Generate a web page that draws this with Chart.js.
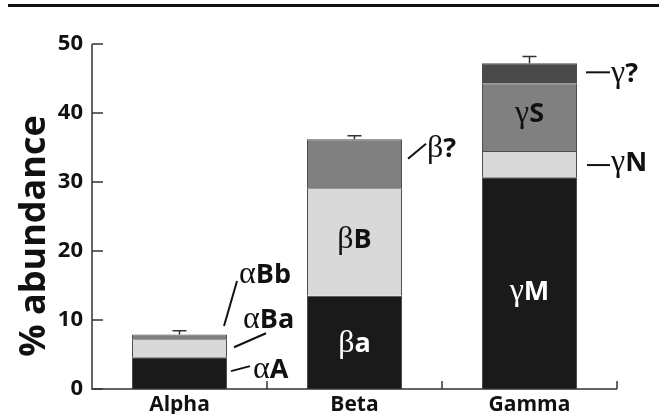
<!DOCTYPE html>
<html>
<head>
<meta charset="utf-8">
<script src="https://cdn.jsdelivr.net/npm/chart.js@4/dist/chart.umd.min.js"></script>
<style>
  html, body { margin: 0; padding: 0; background: #fff; }
  #wrap { width: 659px; height: 414px; }
</style>
</head>
<body>
<div id="wrap"><canvas id="c" width="659" height="414"></canvas></div>
<script>
// Crystallin classes and their sub-fractions (% abundance), stacked bottom to top
const categories = ['Alpha', 'Beta', 'Gamma'];
const layer1 = [4.6, 13.5, 30.7];   // αA, βa, γM
const layer2 = [2.6, 15.6, 3.8];    // αBa, βB, γN
const layer3 = [0.7, 7.1, 9.8];     // αBb, β?, γS
const layer4 = [null, null, 2.9];   // γ?
const errors = [0.55, 0.5, 1.0];    // upper error on each total
const yTicks = [0, 10, 20, 30, 40, 50];

// segment names: [greek prefix, latin suffix]
const names1 = [['α', 'A'], ['β', 'a'], ['γ', 'M']];
const names2 = [['α', 'Ba'], ['β', 'B'], ['γ', 'N']];
const names3 = [['α', 'Bb'], ['β', '?'], ['γ', 'S']];
const names4 = [null, null, ['γ', '?']];

const layers = [layer1, layer2, layer3, layer4];
const names = [names1, names2, names3, names4];
const fills = ['#1a1a1a', '#d9d9d9', '#808080', '#4a4a4a'];

// where each name goes: inside the segment, or beside the bar with a leader line
// inside: dy = baseline offset from segment middle
// outside: line from (right+x0, mid+y0) to (right+x1, mid+y1), text at right+tx, baseline mid+ty
const placement = {
  '0,0': { out: true, x0: 4, y0: -2, x1: 23, y1: -7, tx: 26, ty: 5 },
  '1,0': { out: true, x0: 7, y0: -1, x1: 39, y1: -15, tx: 16, ty: -20 },
  '2,0': { out: true, x0: -3, y0: -11, x1: 10, y1: -56, tx: 12, ty: -54 },
  '0,1': { out: false, dy: 10, color: '#fff' },
  '1,1': { out: false, dy: 6, color: '#111' },
  '2,1': { out: true, x0: 6, y0: -5, x1: 24, y1: -20, tx: 25, ty: -7 },
  '0,2': { out: false, dy: 17, color: '#fff' },
  '1,2': { out: true, x0: 10, y0: 1, x1: 33, y1: 1, tx: 34, ty: 7 },
  '2,2': { out: false, dy: 5, color: '#111' },
  '3,2': { out: true, x0: 9, y0: -1, x1: 33, y1: -1, tx: 34, ty: 9 }
};

const SANS = '"Open Sans", "Liberation Sans", sans-serif';
const SERIF = '"Liberation Serif", "DejaVu Serif", serif';

function drawName(ctx, greek, latin, x, baseline, align, color, gSize, lSize) {
  ctx.save();
  ctx.fillStyle = color;
  ctx.textBaseline = 'alphabetic';
  ctx.textAlign = 'left';
  ctx.font = gSize + 'px ' + SERIF;
  const gw = ctx.measureText(greek).width;
  ctx.font = 'bold ' + lSize + 'px ' + SANS;
  const lw = ctx.measureText(latin).width;
  let sx = align === 'center' ? x - (gw + lw) / 2 : x;
  ctx.font = gSize + 'px ' + SERIF;
  ctx.fillText(greek, sx, baseline);
  ctx.font = 'bold ' + lSize + 'px ' + SANS;
  ctx.fillText(latin, sx + gw, baseline);
  ctx.restore();
}

const decorations = {
  id: 'decorations',
  beforeDraw(chart) {
    const ctx = chart.ctx;
    ctx.save();
    ctx.fillStyle = '#fff';
    ctx.fillRect(0, 0, chart.width, chart.height);
    // heading rule
    ctx.strokeStyle = '#111';
    ctx.lineWidth = 3;
    ctx.beginPath();
    ctx.moveTo(8, 5.5);
    ctx.lineTo(chart.width, 5.5);
    ctx.stroke();
    // axis title
    ctx.translate(45, 236);
    ctx.rotate(-Math.PI / 2);
    ctx.fillStyle = '#111';
    ctx.font = 'bold 36px ' + SANS;
    ctx.textAlign = 'center';
    ctx.textBaseline = 'alphabetic';
    ctx.fillText('% abundance', 0, 0);
    ctx.restore();
  },
  afterDatasetsDraw(chart) {
    const ctx = chart.ctx;
    const xs = chart.scales.x, ys = chart.scales.y;
    const area = chart.chartArea;
    ctx.save();
    ctx.strokeStyle = '#333';
    ctx.lineWidth = 1.5;
    // axes
    ctx.beginPath();
    ctx.moveTo(area.left, area.top);
    ctx.lineTo(area.left, area.bottom);
    ctx.lineTo(area.right, area.bottom);
    ctx.stroke();
    // inward y ticks
    yTicks.forEach(v => {
      const y = ys.getPixelForValue(v);
      ctx.beginPath();
      ctx.moveTo(area.left, y);
      ctx.lineTo(area.left + 11, y);
      ctx.stroke();
    });
    // category boundary ticks on x axis
    const step = (area.right - area.left) / categories.length;
    for (let i = 1; i <= categories.length; i++) {
      const x = xs.getPixelForValue(i - 1) + step / 2;
      ctx.beginPath();
      ctx.moveTo(x, area.bottom);
      ctx.lineTo(x, area.bottom - 8);
      ctx.stroke();
    }
    // error bars above each stack
    categories.forEach((c, i) => {
      const total = layers.reduce((s, l) => s + (l[i] || 0), 0);
      const x = xs.getPixelForValue(i);
      const y0 = ys.getPixelForValue(total);
      const y1 = ys.getPixelForValue(total + errors[i]);
      ctx.beginPath();
      ctx.moveTo(x, y0);
      ctx.lineTo(x, y1);
      ctx.moveTo(x - 7, y1);
      ctx.lineTo(x + 7, y1);
      ctx.stroke();
    });
    // segment names
    layers.forEach((layer, li) => {
      const meta = chart.getDatasetMeta(li);
      categories.forEach((c, ci) => {
        const nm = names[li][ci];
        const p = placement[li + ',' + ci];
        if (!nm || !p || layer[ci] == null) return;
        let base = 0;
        for (let k = 0; k < li; k++) base += layers[k][ci] || 0;
        const mid = ys.getPixelForValue(base + layer[ci] / 2);
        const bar = meta.data[ci];
        const right = bar.x + bar.width / 2;
        if (p.out) {
          ctx.strokeStyle = '#111';
          ctx.lineWidth = 2;
          ctx.beginPath();
          ctx.moveTo(right + p.x0, mid + p.y0);
          ctx.lineTo(right + p.x1, mid + p.y1);
          ctx.stroke();
          drawName(ctx, nm[0], nm[1], right + p.tx, mid + p.ty, 'left', '#111', 32, 27);
        } else {
          drawName(ctx, nm[0], nm[1], bar.x, mid + p.dy, 'center', p.color, 32, 27);
        }
      });
    });
    ctx.restore();
  }
};

new Chart(document.getElementById('c'), {
  type: 'bar',
  data: {
    labels: categories,
    datasets: layers.map((l, i) => ({
      data: l,
      backgroundColor: fills[i],
      borderColor: '#4d4d4d',
      borderWidth: 1,
      barPercentage: 0.543,
      categoryPercentage: 1,
      stack: 'total'
    }))
  },
  options: {
    responsive: false,
    animation: false,
    devicePixelRatio: 1,
    layout: { padding: { left: 0, right: 42, top: 44, bottom: 0 } },
    plugins: { legend: { display: false }, tooltip: { enabled: false } },
    scales: {
      x: {
        stacked: true,
        grid: { display: false, drawTicks: false },
        border: { display: false },
        ticks: { color: '#111', font: { family: SANS, size: 21, weight: 'bold' }, padding: 3 },
        afterFit(s) { s.height = 25; }
      },
      y: {
        stacked: true,
        min: 0,
        max: 50,
        grid: { display: false, drawTicks: false },
        border: { display: false },
        ticks: { stepSize: 10, color: '#111', font: { family: SANS, size: 22, weight: 'bold' }, padding: 9 },
        afterFit(s) { s.width = 92; }
      }
    }
  },
  plugins: [decorations]
});
</script>
</body>
</html>
